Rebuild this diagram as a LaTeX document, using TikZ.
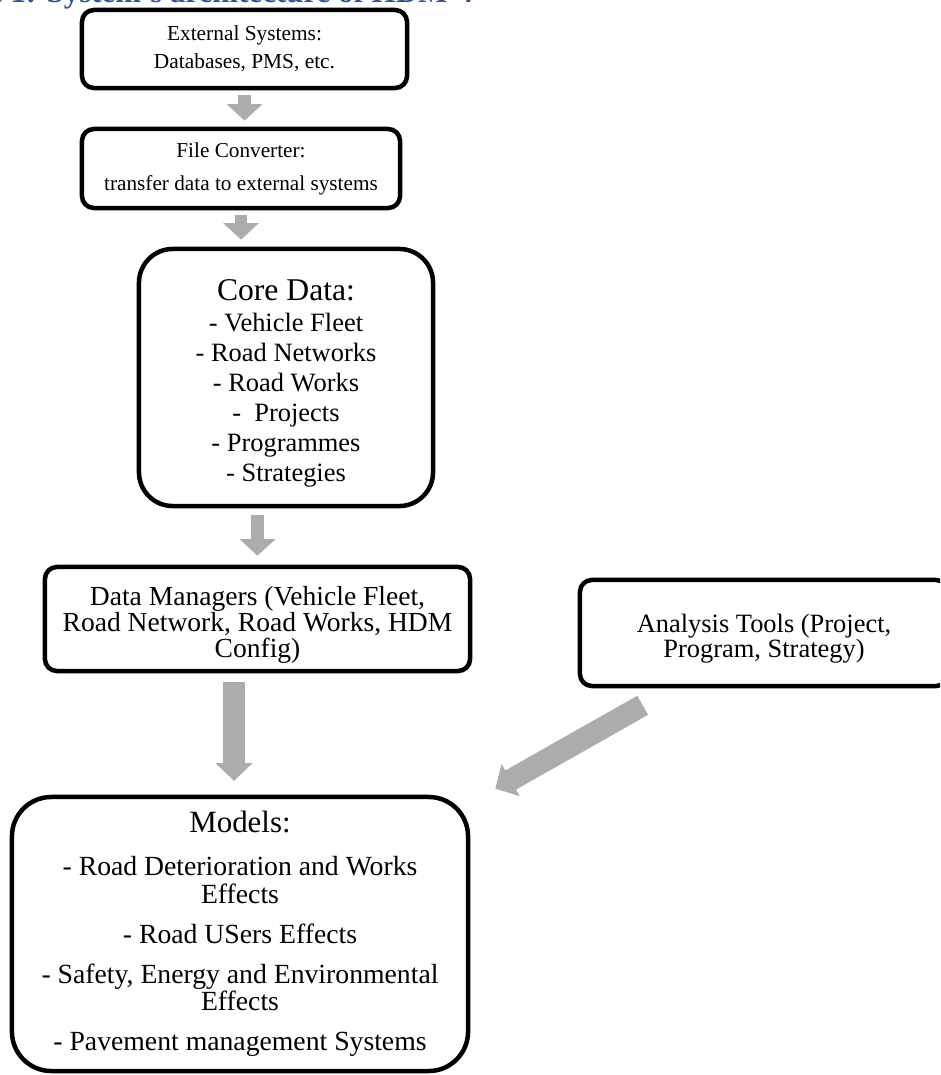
\documentclass[tikz,border=0pt]{standalone}
\usepackage{fontspec}
\setmainfont{Liberation Serif}
\usetikzlibrary{arrows.meta,calc}
\definecolor{flowgray}{RGB}{171,172,171}
\definecolor{titleblue}{RGB}{47,84,150}
\tikzstyle{box}=[draw=black, line width=3.2pt, rounded corners=8.5pt, align=center, inner sep=0pt]
\tikzstyle{flow}=[draw=flowgray, line width=9.2pt, -{Triangle[width=24.8pt, length=11.8pt]}]
\tikzstyle{bigflow}=[draw=flowgray, line width=15.6pt, -{Triangle[width=25.5pt, length=12.5pt]}]
% strut that pushes a node's text downwards
\newcommand{\toppad}[1]{\rule{0pt}{#1}}

\begin{document}
\begin{tikzpicture}[x=0.025cm, y=-0.025cm]
		   \useasboundingbox (0,0) rectangle (940,1075);
		   \clip (0,0) rectangle (940,1075);
		   \node (title) at (478,3)[anchor=base east, text=titleblue, font=\fontsize{22}{26}\selectfont\bfseries] {Figure 1: System's architecture of HDM-4};
		   \begin{scope}
			   \node (ext) at (244.5,49)[box, minimum width=8.125cm, minimum height=1.95cm, font=\fontsize{15.2}{19.8}\selectfont] {External Systems:\\Databases, PMS, etc.};
			   \node (conv) at (241,168.5)[box, minimum width=7.95cm, minimum height=1.975cm, font=\fontsize{15.1}{23.4}\selectfont] {File Converter:\\transfer data to external systems};
			   \node (core) at (286,377.5)[box, rounded corners=24pt, minimum width=7.35cm, minimum height=6.425cm, font=\fontsize{18.8}{21.3}\selectfont] {\toppad{23pt}{\fontsize{22.5}{26}\selectfont Core Data:}\\[0.7pt]- Vehicle Fleet\\- Road Networks\\- Road Works\\- \ Projects\\- Programmes\\- Strategies};
			   \node (dm) at (257.5,619)[box, minimum width=10.625cm, minimum height=2.6cm, font=\fontsize{19.6}{18.8}\selectfont] {\toppad{22pt}Data Managers (Vehicle Fleet,\\Road Network, Road Works, HDM\\Config)};
			   \node (ana) at (764,633)[box, minimum width=9.2cm, minimum height=2.65cm, font=\fontsize{18.8}{17.7}\selectfont] {\toppad{21pt}Analysis Tools (Project,\\Program, Strategy)};
			   \node (models) at (240,934)[box, rounded corners=28pt, minimum width=11.4cm, minimum height=6.85cm, font=\fontsize{19.7}{19.8}\selectfont] {{\fontsize{22}{26}\selectfont Models:}\\[10.7pt]- Road Deterioration and Works\\Effects\\[8.5pt]- Road USers Effects\\[8.5pt]- Safety, Energy and Environmental\\Effects\\[8.5pt]- Pavement management Systems};
		   \end{scope}
		   \begin{scope}
			   \draw [flow, shorten <=3.5pt, shorten >=4.3pt] (ext.south) -- (ext.south |- conv.north);
			   \draw [flow, shorten <=3.5pt, shorten >=5pt] (conv.south) -- (conv.south |- core.north);
			   \draw [flow, shorten <=5pt, shorten >=6.4pt] (dm.north |- core.south) -- (dm.north);
			   \draw [bigflow, shorten <=6.4pt, shorten >=9.9pt] ([xshift=-0.15cm]models.north |- dm.south) -- ([xshift=-0.15cm]models.north);
			   \draw [bigflow] ($(ana.south west)+(65,17)$) -- ($(models.north east)+(25,-6)$);
		   \end{scope}
	   \end{tikzpicture}
\end{document}
